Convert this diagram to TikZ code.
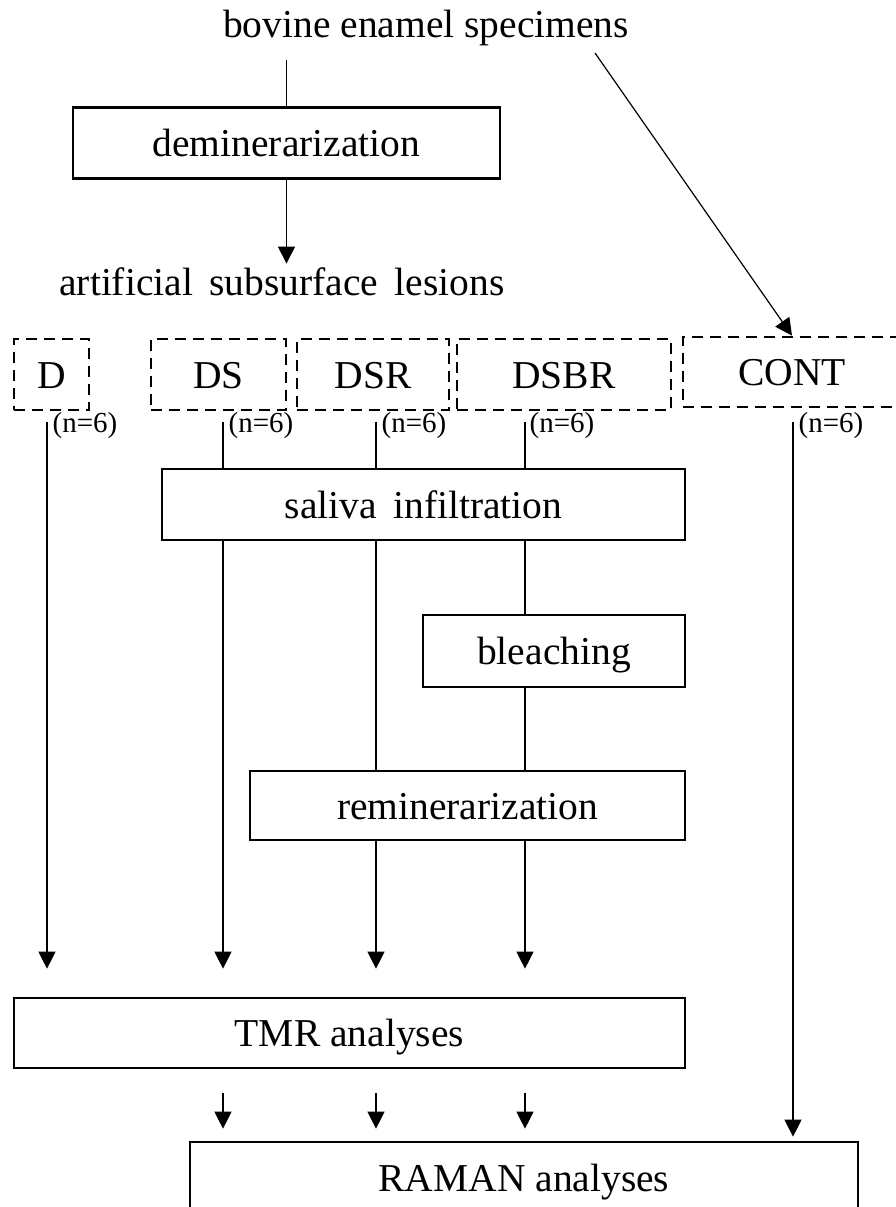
\documentclass[tikz,border=0pt]{standalone}
\usepackage{fontspec}
\setmainfont{Liberation Serif}
\usetikzlibrary{arrows.meta,positioning}
\newcommand{\bigtext}{\fontsize{39.5}{47}\selectfont}

\begin{document}
\begin{tikzpicture}[x=1pt,y=-1pt,>={Triangle[length=17pt,width=17pt]},
  line width=1.2pt,node distance=5pt,
  proc node/.style={draw,line width=2.7pt,fill=white,minimum height=71pt,
  inner sep=0pt,font=\bigtext,text height=27.6pt,text depth=0pt},
  group node/.style={proc node,fill=none,dash pattern=on 11pt off 7pt},
  plain node/.style={inner sep=0pt,font=\bigtext},
  count/.style={inner sep=0pt,font=\fontsize{29}{34}\selectfont,yshift=-4pt}]

  \useasboundingbox (0,0) rectangle (896,1207);

  \node[plain node,anchor=base] (title) at (426,38) {bovine enamel specimens};
  \node[proc node,minimum width=427pt] (demin) at (286.5,143) {deminerarization};
  \node[plain node,anchor=base] (lesions) at (282,295) {artificial\, subsurface\, lesions};

  % sample groups
  \node[group node,minimum width=75pt] (D) at (51.5,374.5) {D};
  \node[group node,minimum width=135pt] (DS) at (218.5,374.5) {DS};
  \node[group node,minimum width=152pt] (DSR) at (373,374.5) {DSR};
  \node[group node,minimum width=214pt] (DSBR) at (564,374.5) {DSBR};
  \node[group node,minimum width=218pt,minimum height=70pt] (CONT) at (792,372) {CONT};

  \coordinate (dTop) at (47,422);
  \coordinate (dsTop) at (223,422);
  \coordinate (dsrTop) at (376,422);
  \coordinate (dsbrTop) at (525,422);
  \coordinate (contTop) at (793,422);
  \coordinate (diagTop) at (595,53);

  \node[count,right=of dTop] (dN) {(n=6)};
  \node[count,right=of dsTop] (dsN) {(n=6)};
  \node[count,right=of dsrTop] (dsrN) {(n=6)};
  \node[count,right=4pt of dsbrTop] (dsbrN) {(n=6)};
  \node[count,right=of contTop] (contN) {(n=6)};

  \node[proc node,minimum width=523pt] (sal) at (423.5,504.5) {saliva\, infiltration};
  \node[proc node,minimum width=262pt,minimum height=72pt] (bl) at (554,651) {bleaching};
  \node[proc node,minimum width=435pt,minimum height=69pt] (rem) at (467.5,805.5) {reminerarization};
  \node[proc node,minimum width=671pt,minimum height=70pt] (tmr) at (349.5,1033) {TMR analyses};
  \node[proc node,minimum width=668pt,minimum height=72pt] (ram) at (524,1178) {RAMAN analyses};

  \draw[shorten <=13pt] (title.south -| demin.north) -- (demin.north);
  \draw[->,shorten >=3pt] (demin.south) -- (lesions.north -| demin.south);
  \draw[->] (diagTop) -- (CONT.north);

  % D
  \draw[->,shorten >=28pt] (dTop) -- (dTop |- tmr.north);
  % DS
  \draw (dsTop) -- (dsTop |- sal.north);
  \draw[->,shorten >=28pt] (dsTop |- sal.south) -- (dsTop |- tmr.north);
  % DSR
  \draw (dsrTop) -- (dsrTop |- sal.north);
  \draw (dsrTop |- sal.south) -- (dsrTop |- rem.north);
  \draw[->,shorten >=28pt] (dsrTop |- rem.south) -- (dsrTop |- tmr.north);
  % DSBR
  \draw (dsbrTop) -- (dsbrTop |- sal.north);
  \draw (dsbrTop |- sal.south) -- (dsbrTop |- bl.north);
  \draw (dsbrTop |- bl.south) -- (dsbrTop |- rem.north);
  \draw[->,shorten >=28pt] (dsbrTop |- rem.south) -- (dsbrTop |- tmr.north);
  % CONT
  \draw[->,shorten >=4pt] (contTop) -- (contTop |- ram.north);

  \draw[->,shorten <=24pt,shorten >=12pt] (dsTop |- tmr.south) -- (dsTop |- ram.north);
  \draw[->,shorten <=24pt,shorten >=12pt] (dsrTop |- tmr.south) -- (dsrTop |- ram.north);
  \draw[->,shorten <=24pt,shorten >=12pt] (dsbrTop |- tmr.south) -- (dsbrTop |- ram.north);
\end{tikzpicture}
\end{document}
